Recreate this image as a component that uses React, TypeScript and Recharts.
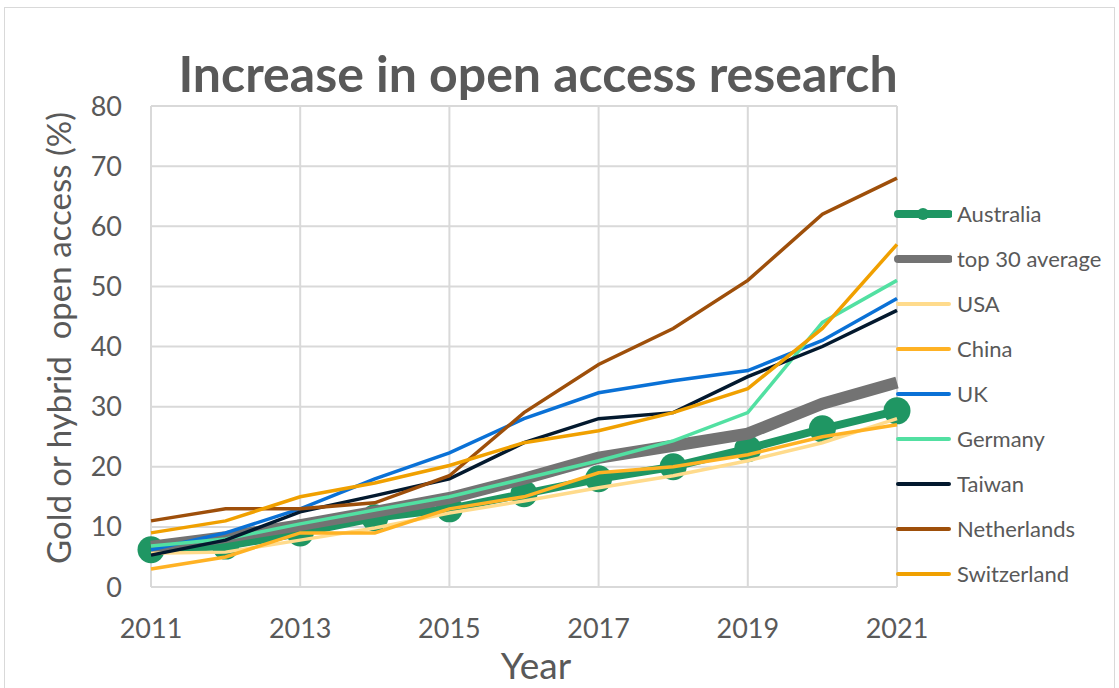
import { LineChart, Line, XAxis, YAxis, CartesianGrid, Legend } from "recharts";

const YEARS = [2011, 2012, 2013, 2014, 2015, 2016, 2017, 2018, 2019, 2020, 2021];

const AUSTRALIA = [6.2, 6.8, 9, 11.5, 13, 15.5, 18, 20, 23, 26.3, 29.3];
const TOP30_AVERAGE = [6.7, 8.3, 10.3, 12.5, 14.8, 18, 21.5, 23.5, 25.5, 30.5, 34];
const USA = [5.6, 5.8, 7.8, 9.8, 12.3, 14.3, 16.5, 18.5, 21, 24, 28];
const CHINA = [3, 5, 9, 9, 13, 15, 19, 20, 22, 25, 27];
const UK = [6.2, 9, 13, 18, 22.3, 28, 32.3, 34.3, 36, 41, 48];
const GERMANY = [6.8, 8, 10.5, 12.8, 15, 18, 21, 24.3, 29, 44, 51];
const TAIWAN = [5.3, 7.8, 12.5, 15.2, 18, 24, 28, 29, 35, 40, 46];
const NETHERLANDS = [11, 13, 13, 14, 18.5, 29, 37, 43, 51, 62, 68];
const SWITZERLAND = [9, 11, 15, 17.3, 20.2, 24, 26, 29, 33, 43, 57];

const X_TICKS = [2011, 2013, 2015, 2017, 2019, 2021];
const Y_TICKS = [0, 10, 20, 30, 40, 50, 60, 70, 80];

const TEXT = "#595959";
const GRID = "#D9D9D9";
const FONT = "Lato, 'Open Sans', sans-serif";

// drawing order follows the legend (Australia at the bottom)
const SERIES = [
  { key: "Australia", values: AUSTRALIA, color: "#1F9663", width: 8, dot: true },
  { key: "top 30 average", values: TOP30_AVERAGE, color: "#737373", width: 12, dot: false },
  { key: "USA", values: USA, color: "#FFDB8C", width: 3.5, dot: false },
  { key: "China", values: CHINA, color: "#FFB224", width: 3.5, dot: false },
  { key: "UK", values: UK, color: "#0A71D6", width: 3.5, dot: false },
  { key: "Germany", values: GERMANY, color: "#52E0A2", width: 3.5, dot: false },
  { key: "Taiwan", values: TAIWAN, color: "#03192E", width: 3.5, dot: false },
  { key: "Netherlands", values: NETHERLANDS, color: "#9E4F0A", width: 3.5, dot: false },
  { key: "Switzerland", values: SWITZERLAND, color: "#F0A000", width: 3.5, dot: false },
];

const data = YEARS.map((year, i) => {
  const row: Record<string, number> = { year };
  SERIES.forEach((s) => {
    row[s.key] = s.values[i];
  });
  return row;
});

function LegendContent() {
  return (
    <div style={{ fontFamily: FONT, fontSize: 22, color: TEXT }}>
      {SERIES.map((s) => (
        <div
          key={s.key}
          style={{ height: 45, display: "flex", alignItems: "center" }}
        >
          <svg width={58} height={20} style={{ marginRight: 5 }}>
            <line
              x1={4}
              x2={55}
              y1={10}
              y2={10}
              stroke={s.color}
              strokeWidth={s.width > 5 ? 8 : 4}
              strokeLinecap="round"
            />
            {s.dot && <circle cx={29} cy={10} r={6} fill={s.color} />}
          </svg>
          <span>{s.key}</span>
        </div>
      ))}
    </div>
  );
}

export default function App() {
  return (
    <div
      style={{
        position: "absolute",
        left: 0,
        top: 0,
        width: 1119,
        height: 688,
        background: "#fff",
        overflow: "hidden",
        fontFamily: FONT,
      }}
    >
      <div
        style={{
          position: "absolute",
          left: 4,
          top: 7,
          width: 1109,
          height: 700,
          border: `1px solid ${GRID}`,
        }}
      />
      <div
        style={{
          position: "absolute",
          left: 0,
          width: 1076,
          top: 43,
          textAlign: "center",
          fontSize: 50,
          fontWeight: 700,
          color: TEXT,
          lineHeight: "60px",
        }}
      >
        Increase in open access research
      </div>
      <div
        style={{
          position: "absolute",
          left: 58,
          top: 338,
          transform: "translate(-50%, -50%) rotate(-90deg)",
          whiteSpace: "pre",
          fontSize: 33,
          color: TEXT,
        }}
      >
        {"Gold or hybrid  open access (%)"}
      </div>
      <div
        style={{
          position: "absolute",
          left: 536,
          top: 664,
          transform: "translate(-50%, -50%)",
          fontSize: 37,
          color: TEXT,
        }}
      >
        Year
      </div>
      <LineChart
        width={1119}
        height={688}
        data={data}
        margin={{ top: 106, right: 222, bottom: 21, left: 51 }}
        style={{ position: "absolute", left: 0, top: 0 }}
      >
        <CartesianGrid stroke={GRID} strokeWidth={2} />
        <XAxis
          dataKey="year"
          type="number"
          domain={[2011, 2021]}
          ticks={X_TICKS}
          height={80}
          tickLine={false}
          tickSize={0}
          tickMargin={32}
          axisLine={{ stroke: GRID, strokeWidth: 2 }}
          tick={{ fill: TEXT, fontSize: 27, fontFamily: FONT }}
        />
        <YAxis
          domain={[0, 80]}
          ticks={Y_TICKS}
          width={100}
          axisLine={false}
          tickLine={false}
          tickSize={0}
          tickMargin={29}
          tick={{ fill: TEXT, fontSize: 27, fontFamily: FONT }}
        />
        <Legend
          layout="horizontal"
          verticalAlign="middle"
          align="center"
          content={<LegendContent />}
          wrapperStyle={{ left: 894, top: 191, width: 225 }}
        />
        {SERIES.map((s, i) => (
          <Line
            key={s.key}
            type="linear"
            dataKey={s.key}
            stroke={s.color}
            strokeWidth={s.width}
            dot={s.dot ? { r: 13.5, fill: s.color, stroke: s.color, strokeWidth: 0 } : false}
            activeDot={false}
            isAnimationActive={false}
            {...(i > 0 ? { zIndex: 1000 + i * 10 } : {})}
          />
        ))}
      </LineChart>
    </div>
  );
}
